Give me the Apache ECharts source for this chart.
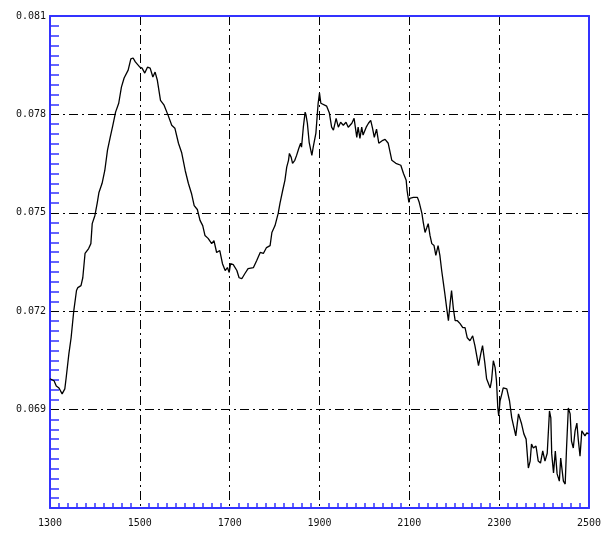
<!DOCTYPE html>
<html>
<head>
<meta charset="utf-8">
<script src="https://cdn.jsdelivr.net/npm/echarts@6/dist/echarts.min.js"></script>
<style>html,body{margin:0;padding:0;background:#fff}#c{width:605px;height:534px}</style>
</head>
<body>
<div id="c"></div>
<script>
const wavelengths = [1300,1309,1314,1320,1327,1333,1336,1342,1347,1353,1359,1362,1369,1373,1378,1386,1391,1394,1400,1405,1409,1416,1422,1428,1434,1440,1446,1453,1459,1465,1469,1474,1480,1485,1490,1494,1500,1505,1511,1517,1523,1529,1534,1539,1546,1554,1563,1571,1578,1586,1593,1601,1608,1615,1621,1628,1634,1640,1645,1652,1660,1665,1671,1678,1684,1690,1695,1699,1702,1708,1716,1721,1727,1734,1741,1753,1760,1768,1775,1782,1790,1794,1801,1808,1812,1818,1823,1827,1831,1833,1837,1840,1845,1849,1854,1858,1860,1864,1868,1870,1873,1877,1883,1886,1892,1895,1897,1900,1903,1907,1916,1922,1927,1931,1937,1942,1947,1953,1959,1964,1972,1977,1983,1986,1990,1994,1997,2004,2009,2014,2018,2022,2027,2032,2036,2041,2046,2053,2061,2070,2081,2087,2093,2095,2099,2101,2109,2118,2122,2128,2131,2135,2139,2142,2146,2150,2155,2159,2164,2168,2172,2176,2179,2183,2187,2191,2194,2198,2202,2207,2213,2219,2224,2229,2235,2241,2246,2250,2254,2259,2263,2268,2272,2276,2280,2283,2287,2291,2294,2297,2299,2302,2306,2309,2317,2323,2328,2333,2337,2343,2346,2350,2355,2360,2365,2369,2372,2376,2382,2387,2392,2397,2402,2407,2412,2415,2417,2421,2425,2429,2434,2437,2440,2443,2447,2450,2454,2458,2461,2465,2469,2473,2476,2480,2484,2487,2491,2495,2499];
const absorbance = [0.06994,0.06988,0.06972,0.06966,0.06948,0.06963,0.06997,0.07070,0.07119,0.07202,0.07263,0.07272,0.07278,0.07302,0.07376,0.07391,0.07406,0.07467,0.07492,0.07529,0.07562,0.07590,0.07629,0.07691,0.07730,0.07767,0.07807,0.07834,0.07883,0.07911,0.07911,0.07935,0.07969,0.07972,0.07960,0.07966,0.07944,0.07941,0.07926,0.07944,0.07941,0.07914,0.07929,0.07904,0.07843,0.07828,0.07797,0.07767,0.07758,0.07712,0.07684,0.07629,0.07590,0.07559,0.07522,0.07510,0.07477,0.07461,0.07431,0.07422,0.07406,0.07415,0.07379,0.07385,0.07345,0.07324,0.07333,0.07318,0.07345,0.07342,0.07324,0.07302,0.07299,0.07315,0.07330,0.07333,0.07354,0.07379,0.07376,0.07394,0.07400,0.07440,0.07461,0.07498,0.07529,0.07568,0.07599,0.07639,0.07660,0.07681,0.07669,0.07651,0.07660,0.07675,0.07697,0.07712,0.07700,0.07761,0.07807,0.07798,0.07773,0.07715,0.07675,0.07700,0.07743,0.07798,0.07834,0.07865,0.07834,0.07828,0.07825,0.07804,0.07761,0.07752,0.07788,0.07761,0.07776,0.07767,0.07776,0.07761,0.07773,0.07788,0.07730,0.07761,0.07727,0.07761,0.07737,0.07761,0.07773,0.07782,0.07758,0.07730,0.07755,0.07712,0.07706,0.07721,0.07724,0.07712,0.07660,0.07651,0.07645,0.07620,0.07599,0.07568,0.07532,0.07544,0.07547,0.07547,0.07532,0.07498,0.07471,0.07440,0.07455,0.07467,0.07431,0.07406,0.07400,0.07370,0.07400,0.07370,0.07324,0.07284,0.07254,0.07211,0.07171,0.07226,0.07263,0.07208,0.07171,0.07171,0.07162,0.07150,0.07150,0.07119,0.07110,0.07125,0.07095,0.07089,0.07034,0.07070,0.07095,0.07043,0.06994,0.06988,0.06966,0.06988,0.07049,0.07028,0.06988,0.06905,0.06881,0.06927,0.06948,0.06966,0.06963,0.06927,0.06875,0.06844,0.06820,0.06887,0.06881,0.06856,0.06826,0.06810,0.06722,0.06743,0.06795,0.06783,0.06789,0.06743,0.06737,0.06774,0.06743,0.06767,0.06896,0.06875,0.06765,0.06707,0.06774,0.06704,0.06682,0.06752,0.06749,0.06682,0.06673,0.06783,0.06905,0.06887,0.06804,0.06783,0.06835,0.06859,0.06810,0.06758,0.06835,0.06829,0.06820,0.06829,0.06826];
const xTicks = [1300,1500,1700,1900,2100,2300,2500];
const yTicks = [0.069,0.072,0.075,0.078,0.081];

const blue = '#3333ff';
const gridDash = {color:'#000', width:1, type:[9,4,2,4]};
const labelFont = {fontFamily:'DejaVu Sans Mono', fontSize:10, color:'#111'};
const chart = echarts.init(document.getElementById('c'), null, {renderer:'canvas'});
chart.setOption({
  animation:false,
  backgroundColor:'#fff',
  grid:{left:50, right:16, top:16, bottom:26, containLabel:false},
  xAxis:[{
    type:'value', min:1300, max:2500, interval:200,
    axisLine:{show:true, onZero:false, lineStyle:{color:blue, width:2}},
    axisTick:{show:false},
    minorTick:{show:true, splitNumber:10, length:-5, lineStyle:{color:blue, width:1.5}},
    axisLabel:Object.assign({margin:10, formatter:v => xTicks.includes(v) ? String(v) : ''}, labelFont),
    splitLine:{show:true, lineStyle:gridDash}
  },{
    type:'value', position:'top', min:1300, max:2500,
    axisLine:{show:true, onZero:false, lineStyle:{color:blue, width:2}},
    axisTick:{show:false}, axisLabel:{show:false}, splitLine:{show:false}
  }],
  yAxis:[{
    type:'value', min:0.066, max:0.081, interval:0.003,
    axisLine:{show:true, onZero:false, lineStyle:{color:blue, width:2}},
    axisTick:{show:false},
    minorTick:{show:true, splitNumber:10, length:-9, lineStyle:{color:blue, width:1.5}},
    axisLabel:Object.assign({margin:4, formatter:v => {
      const t = yTicks.find(k => Math.abs(k - v) < 1e-9);
      return t !== undefined ? t.toFixed(3) : '';
    }}, labelFont),
    splitLine:{show:true, lineStyle:gridDash}
  },{
    type:'value', position:'right', min:0.066, max:0.081,
    axisLine:{show:true, onZero:false, lineStyle:{color:blue, width:2}},
    axisTick:{show:false}, axisLabel:{show:false}, splitLine:{show:false}
  }],
  series:[{
    type:'line', xAxisIndex:0, yAxisIndex:0,
    data: wavelengths.map((w,i) => [w, absorbance[i]]),
    showSymbol:false, symbol:'none',
    lineStyle:{color:'#000', width:1.3},
    z:5
  }]
});
</script>
</body>
</html>
